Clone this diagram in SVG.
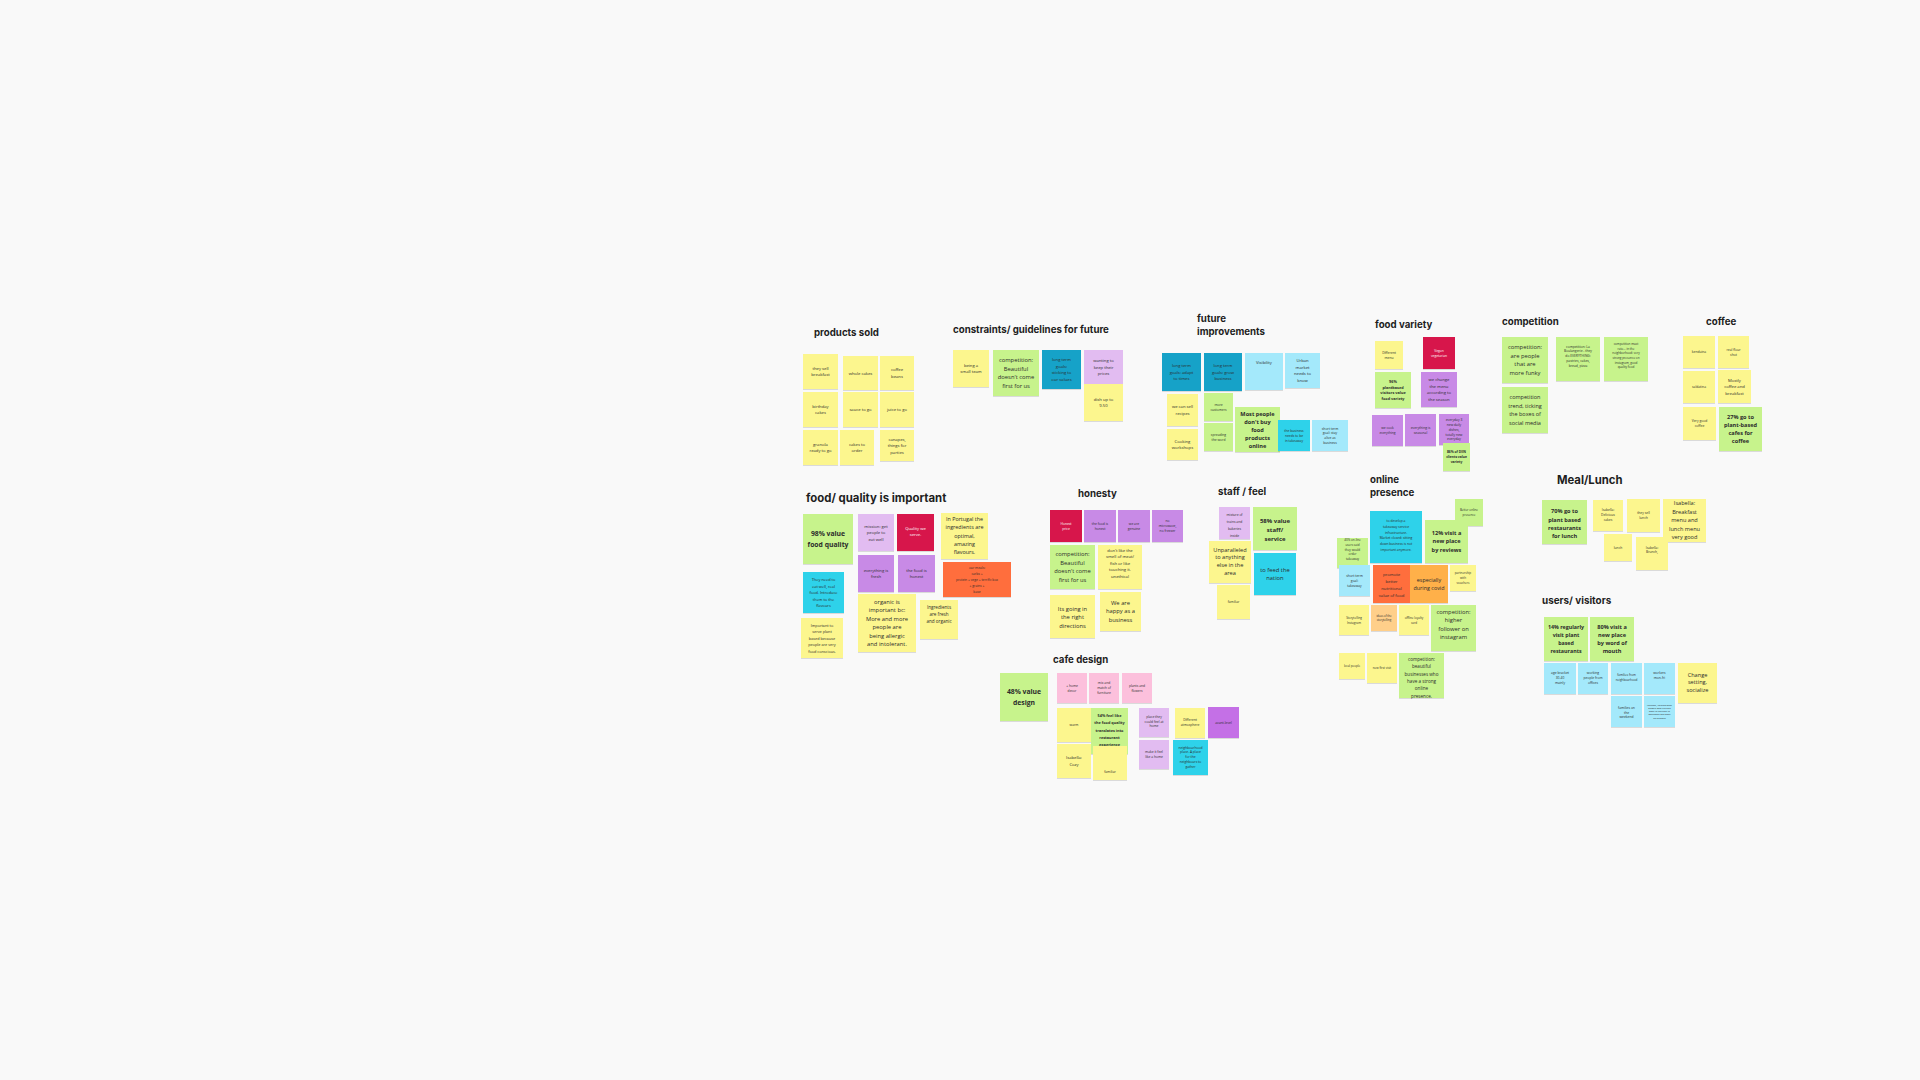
<svg xmlns="http://www.w3.org/2000/svg" width="1920" height="1080" viewBox="0 0 1920 1080">
<defs>
<filter id="sh" x="-10%" y="-10%" width="130%" height="130%"><feDropShadow dx="0" dy="0.7" stdDeviation="0.6" flood-color="#000" flood-opacity="0.18"/></filter>
<style>
rect.n{filter:url(#sh)}
.y{fill:#fcf68e}.g{fill:#c7f38c}.p{fill:#c88ae6}.lv{fill:#e2bcf1}.cr{fill:#d7164b}.dc{fill:#12a2c8}.lc{fill:#a4e9fb}.c{fill:#2fd2ea}.or{fill:#ff6e3c}.o{fill:#ffb04a}.lo{fill:#ffcf8a}.pk{fill:#fcc0dc}.pd{fill:#c46fe6}
text{font-family:"Open Sans","Liberation Sans",sans-serif;fill:#2b2b2b;text-anchor:middle}
.t{font-family:Inter,"Liberation Sans",sans-serif;font-weight:700;font-size:9.7px;text-anchor:start;fill:#1e1e1e}
.s{font-size:4.2px}.xs{font-size:3.3px}.xxs{font-size:2.4px}.m{font-size:5.8px}
.b{font-size:5.6px;font-weight:700}.bl{font-size:6.8px;font-weight:700}.bx{font-size:3.8px;font-weight:700}
.w{fill:#fff}
</style>
</defs>
<rect width="1920" height="1080" fill="#f9f9f9"/>
<g id="titles">
<g id="t-products"><text class="t" x="814" y="336">products sold</text></g>
<g id="t-constraints"><text class="t" x="953" y="333">constraints/ guidelines for future</text></g>
<g id="t-future"><text class="t" x="1197" y="322">future<tspan x="1197" dy="13">improvements</tspan></text></g>
<g id="t-variety"><text class="t" x="1375" y="328">food variety</text></g>
<g id="t-competition"><text class="t" x="1502" y="325">competition</text></g>
<g id="t-coffee"><text class="t" x="1706" y="325">coffee</text></g>
<g id="t-quality"><text class="t" x="806" y="502" style="font-size:11.4px">food/ quality is important</text></g>
<g id="t-honesty"><text class="t" x="1078" y="497">honesty</text></g>
<g id="t-staff"><text class="t" x="1218" y="495">staff / feel</text></g>
<g id="t-online"><text class="t" x="1370" y="483">online<tspan x="1370" dy="13">presence</tspan></text></g>
<g id="t-meal"><text class="t" x="1557" y="484" style="font-size:11.3px">Meal/Lunch</text></g>
<g id="t-users"><text class="t" x="1542" y="604" style="font-size:9.9px">users/ visitors</text></g>
<g id="t-cafe"><text class="t" x="1053" y="663">cafe design</text></g>
</g>
<g id="connectors"></g>
<g id="nodes">
<!-- products sold -->
<g id="ps1"><rect class="n y" x="803" y="354" width="35" height="35"/><text class="s" y="369.75"><tspan x="820.5">they sell</tspan><tspan x="820.5" dy="6.5">breakfast</tspan></text></g>
<g id="ps2"><rect class="n y" x="843" y="356" width="35" height="34"/><text class="s" y="374.5"><tspan x="860.5">whole cakes</tspan></text></g>
<g id="ps3"><rect class="n y" x="880" y="356" width="34" height="34"/><text class="s" y="371.25"><tspan x="897">coffee</tspan><tspan x="897" dy="6.5">beans</tspan></text></g>
<g id="ps4"><rect class="n y" x="803" y="392" width="35" height="35"/><text class="s" y="407.75"><tspan x="820.5">birthday</tspan><tspan x="820.5" dy="6.5">cakes</tspan></text></g>
<g id="ps5"><rect class="n y" x="843" y="392" width="35" height="35"/><text class="s" y="411"><tspan x="860.5">sauce to go</tspan></text></g>
<g id="ps6"><rect class="n y" x="880" y="392" width="34" height="35"/><text class="s" y="411"><tspan x="897">juice to go</tspan></text></g>
<g id="ps7"><rect class="n y" x="803" y="430" width="35" height="35"/><text class="s" y="445.75"><tspan x="820.5">granola</tspan><tspan x="820.5" dy="6.5">ready to go</tspan></text></g>
<g id="ps8"><rect class="n y" x="840" y="430" width="34" height="35"/><text class="s" y="445.75"><tspan x="857">cakes to</tspan><tspan x="857" dy="6.5">order</tspan></text></g>
<g id="ps9"><rect class="n y" x="880" y="430" width="34" height="31"/><text class="s" y="440.5"><tspan x="897">canapes,</tspan><tspan x="897" dy="6.5">things for</tspan><tspan x="897" dy="6.5">parties</tspan></text></g>
<!-- constraints -->
<g id="c1"><rect class="n y" x="953" y="350" width="36" height="37"/><text class="s" y="366.75"><tspan x="971">being a</tspan><tspan x="971" dy="6.5">small team</tspan></text></g>
<g id="c2"><rect class="n g" x="993" y="350" width="46" height="46"/><text class="m" y="362.25"><tspan x="1016">competition:</tspan><tspan x="1016" dy="8.5">Beautiful</tspan><tspan x="1016" dy="8.5">doesn't come</tspan><tspan x="1016" dy="8.5">first for us</tspan></text></g>
<g id="c3"><rect class="n dc" x="1042" y="350" width="39" height="39"/><text class="s" y="361.25"><tspan x="1061.5">long term</tspan><tspan x="1061.5" dy="6.5">goals:</tspan><tspan x="1061.5" dy="6.5">sticking to</tspan><tspan x="1061.5" dy="6.5">our values</tspan></text></g>
<g id="c4"><rect class="n lv" x="1084" y="350" width="39" height="34"/><text class="s" y="362"><tspan x="1103.5">wanting to</tspan><tspan x="1103.5" dy="6.5">keep their</tspan><tspan x="1103.5" dy="6.5">prices</tspan></text></g>
<g id="c5"><rect class="n y" x="1084" y="384" width="39" height="37"/><text class="s" y="400.75"><tspan x="1103.5">dish up to</tspan><tspan x="1103.5" dy="6.5">9.50</tspan></text></g>
<!-- future improvements -->
<g id="f1"><rect class="n dc" x="1162" y="353" width="39" height="38"/><text class="s" y="367"><tspan x="1181.5">long term</tspan><tspan x="1181.5" dy="6.5">goals: adapt</tspan><tspan x="1181.5" dy="6.5">to times</tspan></text></g>
<g id="f2"><rect class="n dc" x="1204" y="353" width="38" height="38"/><text class="s" y="367"><tspan x="1223">long term</tspan><tspan x="1223" dy="6.5">goals: grow</tspan><tspan x="1223" dy="6.5">business</tspan></text></g>
<g id="f3"><rect class="n lc" x="1245" y="353" width="38" height="37"/><text class="s" y="364"><tspan x="1264">Visibility</tspan></text></g>
<g id="f4"><rect class="n lc" x="1285" y="353" width="35" height="35"/><text class="s" y="362.25"><tspan x="1302.5">Urban</tspan><tspan x="1302.5" dy="6.5">market</tspan><tspan x="1302.5" dy="6.5">needs to</tspan><tspan x="1302.5" dy="6.5">know</tspan></text></g>
<g id="f5"><rect class="n y" x="1167" y="394" width="31" height="32"/><text class="s" y="408.25"><tspan x="1182.5">we can sell</tspan><tspan x="1182.5" dy="6.5">recipes</tspan></text></g>
<g id="f6"><rect class="n y" x="1167" y="429" width="31" height="31"/><text class="s" y="442.75"><tspan x="1182.5">Cooking</tspan><tspan x="1182.5" dy="6.5">workshops</tspan></text></g>
<g id="f7"><rect class="n g" x="1204" y="393" width="29" height="28"/><text class="xs" y="405.8"><tspan x="1218.5">more</tspan><tspan x="1218.5" dy="4.8">customers</tspan></text></g>
<g id="f8"><rect class="n g" x="1204" y="423" width="29" height="28"/><text class="xs" y="435.8"><tspan x="1218.5">spreading</tspan><tspan x="1218.5" dy="4.8">the word</tspan></text></g>
<g id="f9"><rect class="n g" x="1235" y="407" width="45" height="45"/><text class="b" y="415.6"><tspan x="1257.5">Most people</tspan><tspan x="1257.5" dy="8">don't buy</tspan><tspan x="1257.5" dy="8">food</tspan><tspan x="1257.5" dy="8">products</tspan><tspan x="1257.5" dy="8">online</tspan></text></g>
<g id="f10"><rect class="n c" x="1278" y="420" width="32" height="31"/><text class="xs" y="431.9"><tspan x="1294">the business</tspan><tspan x="1294" dy="4.8">needs to be</tspan><tspan x="1294" dy="4.8">in takeaway</tspan></text></g>
<g id="f11"><rect class="n lc" x="1312" y="420" width="36" height="31"/><text class="xs" y="429.5"><tspan x="1330">short term</tspan><tspan x="1330" dy="4.8">goal: stay</tspan><tspan x="1330" dy="4.8">alive as</tspan><tspan x="1330" dy="4.8">business</tspan></text></g>
<!-- food variety -->
<g id="v1"><rect class="n y" x="1375" y="341" width="28" height="28"/><text class="xs" y="353.8"><tspan x="1389">Different</tspan><tspan x="1389" dy="4.8">menu</tspan></text></g>
<g id="v2"><rect class="n cr" x="1423" y="337" width="32" height="32"/><text class="xs w" y="351.8"><tspan x="1439">Vegan</tspan><tspan x="1439" dy="4.8">vegetarian</tspan></text></g>
<g id="v3"><rect class="n g" x="1375" y="372" width="36" height="36"/><text class="bx" y="383.2"><tspan x="1393">96%</tspan><tspan x="1393" dy="5.5">plantbased</tspan><tspan x="1393" dy="5.5">visitors value</tspan><tspan x="1393" dy="5.5">food variety</tspan></text></g>
<g id="v4"><rect class="n p" x="1421" y="372" width="36" height="35"/><text class="s" y="381.25"><tspan x="1439">we change</tspan><tspan x="1439" dy="6.5">the menu</tspan><tspan x="1439" dy="6.5">according to</tspan><tspan x="1439" dy="6.5">the season</tspan></text></g>
<g id="v5"><rect class="n p" x="1372" y="415" width="31" height="31"/><text class="xs" y="429.3"><tspan x="1387.5">we cook</tspan><tspan x="1387.5" dy="4.8">everything</tspan></text></g>
<g id="v6"><rect class="n p" x="1405" y="414" width="31" height="32"/><text class="xs" y="428.8"><tspan x="1420.5">everything is</tspan><tspan x="1420.5" dy="4.8">seasonal</tspan></text></g>
<g id="v7"><rect class="n p" x="1439" y="414" width="30" height="31"/><text class="xs" y="421.1"><tspan x="1454">everyday 3</tspan><tspan x="1454" dy="4.8">new daily</tspan><tspan x="1454" dy="4.8">dishes,</tspan><tspan x="1454" dy="4.8">totally new</tspan><tspan x="1454" dy="4.8">everyday</tspan></text></g>
<g id="v8"><rect class="n g" x="1443" y="443" width="27" height="28"/><text class="xs" style="font-weight:700" y="453.4"><tspan x="1456.5">86% of DIIN</tspan><tspan x="1456.5" dy="4.8">clients value</tspan><tspan x="1456.5" dy="4.8">variety</tspan></text></g>
<!-- competition -->
<g id="k1"><rect class="n g" x="1502" y="337" width="46" height="46"/><text class="m" y="349.25"><tspan x="1525">competition:</tspan><tspan x="1525" dy="8.5">are people</tspan><tspan x="1525" dy="8.5">that are</tspan><tspan x="1525" dy="8.5">more funky</tspan></text></g>
<g id="k2"><rect class="n g" x="1502" y="387" width="46" height="46"/><text class="m" style="font-size:5.5px" y="399.25"><tspan x="1525">competition</tspan><tspan x="1525" dy="8.5">trend, ticking</tspan><tspan x="1525" dy="8.5">the boxes of</tspan><tspan x="1525" dy="8.5">social media</tspan></text></g>
<g id="k3"><rect class="n g" x="1556" y="337" width="44" height="44"/><text class="xs" y="347.6"><tspan x="1578">competition: La</tspan><tspan x="1578" dy="4.8">Boulangerie - they</tspan><tspan x="1578" dy="4.8">do EVERYTHING:</tspan><tspan x="1578" dy="4.8">pastries, cakes,</tspan><tspan x="1578" dy="4.8">bread, pizza</tspan></text></g>
<g id="k4"><rect class="n g" x="1604" y="337" width="44" height="44"/><text class="xs" style="font-size:3px" y="345.2"><tspan x="1626">competition must</tspan><tspan x="1626" dy="4.6">rate... in the</tspan><tspan x="1626" dy="4.6">neighborhood: very</tspan><tspan x="1626" dy="4.6">strong presence on</tspan><tspan x="1626" dy="4.6">instagram, good</tspan><tspan x="1626" dy="4.6">quality food</tspan></text></g>
<!-- coffee -->
<g id="cf1"><rect class="n y" x="1683" y="336" width="32" height="32"/><text class="xs" y="353.2"><tspan x="1699">kenduina</tspan></text></g>
<g id="cf2"><rect class="n y" x="1718" y="336" width="31" height="32"/><text class="xs" y="350.8"><tspan x="1733.5">real flour</tspan><tspan x="1733.5" dy="4.8">shot</tspan></text></g>
<g id="cf3"><rect class="n y" x="1683" y="371" width="32" height="32"/><text class="xs" y="388.2"><tspan x="1699">saldatina</tspan></text></g>
<g id="cf4"><rect class="n y" x="1718" y="370" width="33" height="33"/><text class="s" y="381.5"><tspan x="1734.5">Mostly</tspan><tspan x="1734.5" dy="6.5">coffee and</tspan><tspan x="1734.5" dy="6.5">breakfast</tspan></text></g>
<g id="cf5"><rect class="n y" x="1683" y="407" width="33" height="33"/><text class="xs" y="422.3"><tspan x="1699.5">Very good</tspan><tspan x="1699.5" dy="4.8">coffee</tspan></text></g>
<g id="cf6"><rect class="n g" x="1719" y="407" width="43" height="44"/><text class="b" y="419.1"><tspan x="1740.5">27% go to</tspan><tspan x="1740.5" dy="8">plant-based</tspan><tspan x="1740.5" dy="8">cafes for</tspan><tspan x="1740.5" dy="8">coffee</tspan></text></g>
<!-- food quality -->
<g id="q1"><rect class="n g" x="803" y="514" width="50" height="50"/><text class="bl" y="536.2"><tspan x="828">98% value</tspan><tspan x="828" dy="10.5">food quality</tspan></text></g>
<g id="q2"><rect class="n lv" x="858" y="514" width="36" height="37"/><text class="s" y="527.5"><tspan x="876">mission: get</tspan><tspan x="876" dy="6.5">people to</tspan><tspan x="876" dy="6.5">eat well</tspan></text></g>
<g id="q3"><rect class="n cr" x="897" y="514" width="37" height="37"/><text class="s w" y="529.5"><tspan x="915.5">Quality we</tspan><tspan x="915.5" dy="6.5">serve.</tspan></text></g>
<g id="q4"><rect class="n y" x="941" y="513" width="47" height="46"/><text class="m" style="font-size:5.4px" y="521"><tspan x="964.5">In Portugal the</tspan><tspan x="964.5" dy="8.3">ingredients are</tspan><tspan x="964.5" dy="8.3">optimal,</tspan><tspan x="964.5" dy="8.3">amazing</tspan><tspan x="964.5" dy="8.3">flavours.</tspan></text></g>
<g id="q5"><rect class="n p" x="858" y="555" width="36" height="37"/><text class="s" y="571.75"><tspan x="876">everything is</tspan><tspan x="876" dy="6.5">fresh</tspan></text></g>
<g id="q6"><rect class="n p" x="898" y="555" width="37" height="37"/><text class="s" y="571.75"><tspan x="916.5">the food is</tspan><tspan x="916.5" dy="6.5">honest</tspan></text></g>
<g id="q7"><rect class="n or" x="943" y="562" width="68" height="35"/><text class="xs" y="568.7"><tspan x="977">our meals:</tspan><tspan x="977" dy="6">carbs +</tspan><tspan x="977" dy="6">protein + vege + terrific box</tspan><tspan x="977" dy="6">+ grains +</tspan><tspan x="977" dy="6">base</tspan></text></g>
<g id="q8"><rect class="n c" x="803" y="572" width="41" height="41"/><text class="s" style="font-size:3.9px" y="581"><tspan x="823.5">They need to</tspan><tspan x="823.5" dy="6.5">eat well, real</tspan><tspan x="823.5" dy="6.5">food. Introduce</tspan><tspan x="823.5" dy="6.5">them to the</tspan><tspan x="823.5" dy="6.5">flavours</tspan></text></g>
<g id="q9"><rect class="n y" x="801" y="618" width="42" height="40"/><text class="s" style="font-size:3.8px" y="626.5"><tspan x="822">Important to</tspan><tspan x="822" dy="6.5">serve plant</tspan><tspan x="822" dy="6.5">based because</tspan><tspan x="822" dy="6.5">people are very</tspan><tspan x="822" dy="6.5">food conscious.</tspan></text></g>
<g id="q10"><rect class="n y" x="858" y="594" width="58" height="58"/><text class="m" y="603.75"><tspan x="887">organic is</tspan><tspan x="887" dy="8.5">important bc:</tspan><tspan x="887" dy="8.5">More and more</tspan><tspan x="887" dy="8.5">people are</tspan><tspan x="887" dy="8.5">being allergic</tspan><tspan x="887" dy="8.5">and intolerant.</tspan></text></g>
<g id="q11"><rect class="n y" x="920" y="600" width="38" height="39"/><text class="s" style="font-size:4.6px" y="609.3"><tspan x="939">Ingredients</tspan><tspan x="939" dy="7">are fresh</tspan><tspan x="939" dy="7">and organic</tspan></text></g>
<!-- honesty -->
<g id="h1"><rect class="n cr" x="1050" y="510" width="32" height="32"/><text class="xs w" y="524.8"><tspan x="1066">Honest</tspan><tspan x="1066" dy="4.8">price</tspan></text></g>
<g id="h2"><rect class="n p" x="1084" y="510" width="32" height="32"/><text class="xs" y="524.8"><tspan x="1100">the food is</tspan><tspan x="1100" dy="4.8">honest</tspan></text></g>
<g id="h3"><rect class="n p" x="1118" y="510" width="32" height="32"/><text class="xs" y="524.8"><tspan x="1134">we are</tspan><tspan x="1134" dy="4.8">genuine</tspan></text></g>
<g id="h4"><rect class="n p" x="1152" y="510" width="31" height="32"/><text class="xs" y="522.4"><tspan x="1167.5">no</tspan><tspan x="1167.5" dy="4.8">microwave,</tspan><tspan x="1167.5" dy="4.8">no freezer</tspan></text></g>
<g id="h5"><rect class="n g" x="1050" y="545" width="45" height="44"/><text class="m" y="556.25"><tspan x="1072.5">competition:</tspan><tspan x="1072.5" dy="8.5">Beautiful</tspan><tspan x="1072.5" dy="8.5">doesn't come</tspan><tspan x="1072.5" dy="8.5">first for us</tspan></text></g>
<g id="h6"><rect class="n y" x="1098" y="545" width="44" height="44"/><text class="s" y="551.8"><tspan x="1120">don't like the</tspan><tspan x="1120" dy="6.5">smell of meat/</tspan><tspan x="1120" dy="6.5">fish or like</tspan><tspan x="1120" dy="6.5">touching it.</tspan><tspan x="1120" dy="6.5">unethical</tspan></text></g>
<g id="h7"><rect class="n y" x="1050" y="595" width="45" height="43"/><text class="m" y="610.5"><tspan x="1072.5">Its going in</tspan><tspan x="1072.5" dy="8.8">the right</tspan><tspan x="1072.5" dy="8.8">directions</tspan></text></g>
<g id="h8"><rect class="n y" x="1100" y="592" width="41" height="39"/><text class="m" y="604.8"><tspan x="1120.5">We are</tspan><tspan x="1120.5" dy="8.5">happy as a</tspan><tspan x="1120.5" dy="8.5">business</tspan></text></g>
<!-- staff / feel -->
<g id="sf1"><rect class="n lv" x="1219" y="507" width="31" height="32"/><text class="xs" y="515.5"><tspan x="1234.5">mixture of</tspan><tspan x="1234.5" dy="7">trains and</tspan><tspan x="1234.5" dy="7">bakeries</tspan><tspan x="1234.5" dy="7">inside</tspan></text></g>
<g id="sf2"><rect class="n g" x="1253" y="507" width="44" height="43"/><text class="b" style="font-size:6px" y="522.8"><tspan x="1275">58% value</tspan><tspan x="1275" dy="9">staff/</tspan><tspan x="1275" dy="9">service</tspan></text></g>
<g id="sf3"><rect class="n y" x="1209" y="541" width="42" height="42"/><text class="m" style="font-size:5.6px" y="551.5"><tspan x="1230">Unparalleled</tspan><tspan x="1230" dy="7.8">to anything</tspan><tspan x="1230" dy="7.8">else in the</tspan><tspan x="1230" dy="7.8">area</tspan></text></g>
<g id="sf4"><rect class="n c" x="1254" y="553" width="42" height="42"/><text class="m" y="572"><tspan x="1275">to feed the</tspan><tspan x="1275" dy="8">nation</tspan></text></g>
<g id="sf5"><rect class="n y" x="1217" y="585" width="33" height="34"/><text class="xs" y="603.2"><tspan x="1233.5">familiar</tspan></text></g>
<!-- online presence -->
<g id="o1"><rect class="n g" x="1455" y="499" width="28" height="27"/><text class="xs" style="font-size:3px" y="511.3"><tspan x="1469">Better online</tspan><tspan x="1469" dy="4.6">presence</tspan></text></g>
<g id="o2"><rect class="n c" x="1370" y="511" width="52" height="52"/><text class="xs" y="522"><tspan x="1396">to develop a</tspan><tspan x="1396" dy="5.8">takeaway service</tspan><tspan x="1396" dy="5.8">infrastructure.</tspan><tspan x="1396" dy="5.8">Market closed: sitting</tspan><tspan x="1396" dy="5.8">down business is not</tspan><tspan x="1396" dy="5.8">important anymore.</tspan></text></g>
<g id="o3"><rect class="n g" x="1425" y="520" width="43" height="43"/><text class="b" y="534.8"><tspan x="1446.5">12% visit a</tspan><tspan x="1446.5" dy="8.5">new place</tspan><tspan x="1446.5" dy="8.5">by reviews</tspan></text></g>
<g id="o4"><rect class="n g" x="1337" y="538" width="31" height="30"/><text class="xs" style="font-size:3px" y="541.3"><tspan x="1352.5">40% on-line</tspan><tspan x="1352.5" dy="4.6">users said</tspan><tspan x="1352.5" dy="4.6">they would</tspan><tspan x="1352.5" dy="4.6">order</tspan><tspan x="1352.5" dy="4.6">takeaway</tspan></text></g>
<g id="o5"><rect class="n lc" x="1339" y="565" width="31" height="31"/><text class="xs" y="577.1"><tspan x="1354.5">short term</tspan><tspan x="1354.5" dy="4.8">goal:</tspan><tspan x="1354.5" dy="4.8">takeaway</tspan></text></g>
<g id="o6"><rect class="n or" x="1373" y="565" width="37" height="38"/><text class="s" y="576.4"><tspan x="1391.5">promote</tspan><tspan x="1391.5" dy="7">better</tspan><tspan x="1391.5" dy="7">nutritional</tspan><tspan x="1391.5" dy="7">value of food</tspan></text></g>
<g id="o7"><rect class="n o" x="1410" y="565" width="38" height="38"/><text class="m" style="font-size:5.4px" y="582.4"><tspan x="1429">especially</tspan><tspan x="1429" dy="8">during covid</tspan></text></g>
<g id="o8"><rect class="n y" x="1450" y="565" width="26" height="26"/><text class="xs" style="font-size:3px" y="574.4"><tspan x="1463">partnership</tspan><tspan x="1463" dy="4.6">with</tspan><tspan x="1463" dy="4.6">vouchers</tspan></text></g>
<g id="o9"><rect class="n y" x="1339" y="605" width="30" height="30"/><text class="xs" style="font-size:3px" y="618.8"><tspan x="1354">Storytelling</tspan><tspan x="1354" dy="4.8">Instagram</tspan></text></g>
<g id="o10"><rect class="n lo" x="1371" y="605" width="26" height="26"/><text class="xs" style="font-size:2.8px" y="616.8"><tspan x="1384">ideas of the</tspan><tspan x="1384" dy="4.6">storytelling</tspan></text></g>
<g id="o11"><rect class="n y" x="1399" y="605" width="30" height="30"/><text class="xs" style="font-size:3px" y="618.8"><tspan x="1414">offline loyalty</tspan><tspan x="1414" dy="4.8">card</tspan></text></g>
<g id="o12"><rect class="n g" x="1431" y="605" width="45" height="46"/><text class="m" y="613.6"><tspan x="1453.5">competition:</tspan><tspan x="1453.5" dy="8.5">higher</tspan><tspan x="1453.5" dy="8.5">follower on</tspan><tspan x="1453.5" dy="8.5">instagram</tspan></text></g>
<g id="o13"><rect class="n y" x="1339" y="653" width="26" height="26"/><text class="xs" style="font-size:2.9px" y="667.2"><tspan x="1352">local people</tspan></text></g>
<g id="o14"><rect class="n y" x="1367" y="653" width="30" height="30"/><text class="xs" style="font-size:3px" y="669.2"><tspan x="1382">new first visit</tspan></text></g>
<g id="o15"><rect class="n g" x="1399" y="653" width="45" height="45"/><text class="s" style="font-size:4.6px" y="661"><tspan x="1421.5">competition:</tspan><tspan x="1421.5" dy="7.3">beautiful</tspan><tspan x="1421.5" dy="7.3">businesses who</tspan><tspan x="1421.5" dy="7.3">have a strong</tspan><tspan x="1421.5" dy="7.3">online</tspan><tspan x="1421.5" dy="7.3">presence.</tspan></text></g>
<!-- meal / lunch -->
<g id="l1"><rect class="n g" x="1542" y="500" width="45" height="44"/><text class="b" y="513.1"><tspan x="1564.5">70% go to</tspan><tspan x="1564.5" dy="8.4">plant based</tspan><tspan x="1564.5" dy="8.4">restaurants</tspan><tspan x="1564.5" dy="8.4">for lunch</tspan></text></g>
<g id="l2"><rect class="n y" x="1593" y="500" width="30" height="31"/><text class="xs" y="511.1"><tspan x="1608">Isabella:</tspan><tspan x="1608" dy="4.8">Delicious</tspan><tspan x="1608" dy="4.8">cakes</tspan></text></g>
<g id="l3"><rect class="n y" x="1627" y="499" width="33" height="33"/><text class="xs" y="514.1"><tspan x="1643.5">they sell</tspan><tspan x="1643.5" dy="4.8">lunch</tspan></text></g>
<g id="l4"><rect class="n y" x="1663" y="499" width="43" height="43"/><text class="m" style="font-size:5.6px" y="505.3"><tspan x="1684.5">Isabella:</tspan><tspan x="1684.5" dy="8.5">Breakfast</tspan><tspan x="1684.5" dy="8.5">menu and</tspan><tspan x="1684.5" dy="8.5">lunch menu</tspan><tspan x="1684.5" dy="8.5">very good</tspan></text></g>
<g id="l5"><rect class="n y" x="1604" y="534" width="28" height="27"/><text class="xs" y="548.7"><tspan x="1618">lunch</tspan></text></g>
<g id="l6"><rect class="n y" x="1636" y="537" width="32" height="33"/><text class="xs" y="548.5"><tspan x="1652">Isabella:</tspan><tspan x="1652" dy="4.8">Brunch,</tspan></text></g>
<!-- users / visitors -->
<g id="u1"><rect class="n g" x="1544" y="617" width="44" height="44"/><text class="b" style="font-size:5.3px" y="629"><tspan x="1566">14% regularly</tspan><tspan x="1566" dy="8">visit plant</tspan><tspan x="1566" dy="8">based</tspan><tspan x="1566" dy="8">restaurants</tspan></text></g>
<g id="u2"><rect class="n g" x="1590" y="617" width="44" height="44"/><text class="b" y="629"><tspan x="1612">80% visit a</tspan><tspan x="1612" dy="8">new place</tspan><tspan x="1612" dy="8">by word of</tspan><tspan x="1612" dy="8">mouth</tspan></text></g>
<g id="u3"><rect class="n lc" x="1544" y="663" width="32" height="31"/><text class="xs" y="674.4"><tspan x="1560">age bracket</tspan><tspan x="1560" dy="4.8">30-40</tspan><tspan x="1560" dy="4.8">mainly</tspan></text></g>
<g id="u4"><rect class="n lc" x="1578" y="663" width="30" height="31"/><text class="xs" y="674.4"><tspan x="1593">working</tspan><tspan x="1593" dy="4.8">people from</tspan><tspan x="1593" dy="4.8">offices</tspan></text></g>
<g id="u5"><rect class="n lc" x="1611" y="663" width="31" height="31"/><text class="xs" style="font-size:3px" y="676.1"><tspan x="1626.5">families from</tspan><tspan x="1626.5" dy="4.8">neighbourhood</tspan></text></g>
<g id="u6"><rect class="n lc" x="1644" y="663" width="31" height="31"/><text class="xs" y="674.1"><tspan x="1659.5">workers</tspan><tspan x="1659.5" dy="4.8">mon-fri</tspan></text></g>
<g id="u7"><rect class="n y" x="1678" y="663" width="39" height="40"/><text class="m" style="font-size:5.6px" y="676.5"><tspan x="1697.5">Change</tspan><tspan x="1697.5" dy="7.8">setting,</tspan><tspan x="1697.5" dy="7.8">socialize</tspan></text></g>
<g id="u8"><rect class="n lc" x="1611" y="696" width="31" height="31"/><text class="xs" y="708.7"><tspan x="1626.5">families on</tspan><tspan x="1626.5" dy="4.8">the</tspan><tspan x="1626.5" dy="4.8">weekend</tspan></text></g>
<g id="u9"><rect class="n lc" x="1644" y="696" width="31" height="31"/><text class="xxs" y="705.5"><tspan x="1659.5">younger, international</tspan><tspan x="1659.5" dy="3.3">people who live and</tspan><tspan x="1659.5" dy="3.3">work in Portugal in</tspan><tspan x="1659.5" dy="3.3">Barcelona and work</tspan><tspan x="1659.5" dy="3.3">as creators</tspan></text></g>
<!-- cafe design -->
<g id="d1"><rect class="n g" x="1000" y="673" width="48" height="48"/><text class="bl" y="694.2"><tspan x="1024">48% value</tspan><tspan x="1024" dy="10.5">design</tspan></text></g>
<g id="d2"><rect class="n pk" x="1057" y="673" width="30" height="30"/><text class="xs" y="686.8"><tspan x="1072">+ home</tspan><tspan x="1072" dy="4.8">decor</tspan></text></g>
<g id="d3"><rect class="n pk" x="1089" y="673" width="30" height="30"/><text class="xs" y="684.4"><tspan x="1104">mix and</tspan><tspan x="1104" dy="4.8">match of</tspan><tspan x="1104" dy="4.8">furniture</tspan></text></g>
<g id="d4"><rect class="n pk" x="1122" y="673" width="30" height="30"/><text class="xs" y="686.8"><tspan x="1137">plants and</tspan><tspan x="1137" dy="4.8">flowers</tspan></text></g>
<g id="d5"><rect class="n y" x="1057" y="708" width="34" height="34"/><text class="xs" y="726.2"><tspan x="1074">warm</tspan></text></g>
<g id="d6"><rect class="n g" x="1091" y="708" width="37" height="46"/><text class="bx" y="717"><tspan x="1109.5">54% feel like</tspan><tspan x="1109.5" dy="7.3">the food quality</tspan><tspan x="1109.5" dy="7.3">translates into</tspan><tspan x="1109.5" dy="7.3">restaurant</tspan><tspan x="1109.5" dy="7.3">experience</tspan></text></g>
<g id="d7"><rect class="n y" x="1057" y="744" width="34" height="34"/><text class="s" y="758.5"><tspan x="1074">Isabella:</tspan><tspan x="1074" dy="7.5">Cozy</tspan></text></g>
<g id="d8"><rect class="n y" x="1093" y="746" width="34" height="34"/><text class="xs" y="772.5"><tspan x="1110">familiar</tspan></text></g>
<g id="d9"><rect class="n lv" x="1139" y="708" width="30" height="29"/><text class="xs" y="717.7"><tspan x="1154">place they</tspan><tspan x="1154" dy="4.8">could feel at</tspan><tspan x="1154" dy="4.8">home</tspan></text></g>
<g id="d10"><rect class="n lv" x="1139" y="740" width="30" height="29"/><text class="xs" y="753.1"><tspan x="1154">make it feel</tspan><tspan x="1154" dy="4.8">like a home</tspan></text></g>
<g id="d11"><rect class="n y" x="1175" y="708" width="30" height="30"/><text class="xs" y="720.8"><tspan x="1190">Different</tspan><tspan x="1190" dy="4.8">atmosphere</tspan></text></g>
<g id="d12"><rect class="n pd" x="1208" y="707" width="31" height="31"/><text class="xs" y="723.7"><tspan x="1223.5">avant-level</tspan></text></g>
<g id="d13"><rect class="n c" x="1173" y="740" width="35" height="35"/><text class="xs" y="748.6"><tspan x="1190.5">neighbourhood</tspan><tspan x="1190.5" dy="4.8">place. A place</tspan><tspan x="1190.5" dy="4.8">for the</tspan><tspan x="1190.5" dy="4.8">neighbours to</tspan><tspan x="1190.5" dy="4.8">gather</tspan></text></g>
</g>
</svg>
